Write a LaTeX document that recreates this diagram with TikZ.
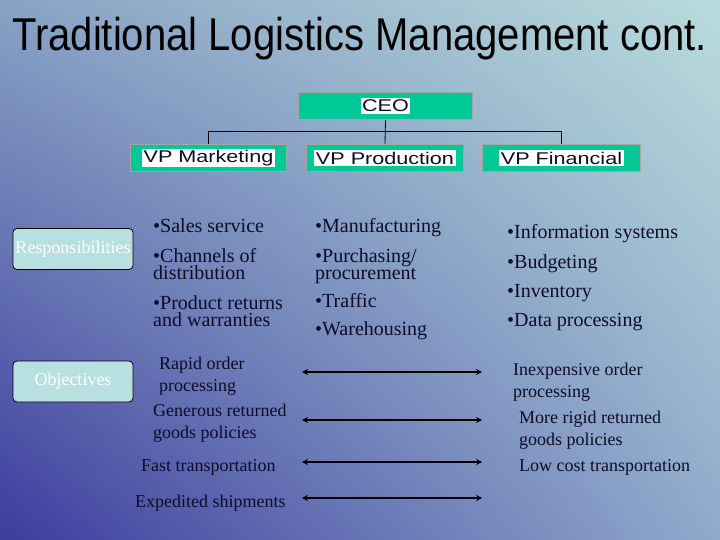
\documentclass[tikz,border=0pt]{standalone}
\usepackage{fontspec}
\setmainfont{Liberation Serif}
\newfontfamily\headfont{Liberation Sans}
\usepackage{xcolor}
\usepackage{tikz}
\usetikzlibrary{arrows.meta,shadings}

\definecolor{vpgreen}{RGB}{0,200,150}
\definecolor{rolecyan}{RGB}{184,224,224}
\definecolor{inkblue}{RGB}{12,12,40}
\definecolor{bgtl}{RGB}{136,162,196}
\definecolor{bgtr}{RGB}{184,220,220}
\definecolor{bgbl}{RGB}{60,60,158}
\definecolor{bgbr}{RGB}{144,170,203}

\setlength{\fboxsep}{1.5pt}
\newcommand{\vplabel}[1]{\colorbox{white}{\scalebox{1.27}[1]{\headfont\fontsize{17}{17}\selectfont #1}}}

\begin{document}
\begin{tikzpicture}[x=1pt, y=-1pt,
        every node/.append style={inner sep=0pt, text=inkblue},
        vpbox/.style={draw=gray!70, line width=1.5pt, fill=vpgreen, minimum height=27pt},
        rolebox/.style={draw=black, line width=0.8pt, fill=rolecyan, rounded corners=4pt, minimum width=120pt,
            minimum height=41pt, text=white, font=\fontsize{18}{18}\selectfont},
        item/.style={anchor=base west, align=left, font=\fontsize{20}{17}\selectfont},
        goal/.style={anchor=base west, align=left, font=\fontsize{18}{22}\selectfont},
        link/.style={line width=2.4pt, {Stealth[length=6pt,width=6pt]}-{Stealth[length=6pt,width=6pt]}}]
        \shade[upper left=bgtl, upper right=bgtr, lower left=bgbl, lower right=bgbr]
            (0,0) rectangle (720,540);

        \node[anchor=base west, text=black, font=\headfont\fontsize{46}{46}\selectfont] (title) at (12,51)
            {\scalebox{0.87}[1]{Traditional Logistics Management cont.}};

        % org chart
        \node[vpbox, minimum width=174pt] (ceo) at (385.5,106) {\vplabel{CEO}};
        \node[vpbox, minimum width=156pt] (vpmark) at (208.5,158) {\vplabel{VP Marketing}};
        \node[vpbox, minimum width=157pt] (vpprod) at (385,158) {\vplabel{VP Production}};
        \node[vpbox, minimum width=158pt] (vpfin) at (561.5,158) {\vplabel{VP Financial}};

        \draw[line width=0.8pt] (ceo.south) -- (vpprod.north);
        \draw[line width=0.8pt] (vpmark.north) -- ++(0,-12) -| (vpfin.north);

        % row labels
        \node[rolebox] (resp) at (73,249) {Responsibilities};
        \node[rolebox] (obj) at (73,381.5) {Objectives};

        % responsibilities
        \node[item] (sales) at (153,233) {•Sales service};
        \node[item] (channels) at (153,279) {•Channels of\\distribution};
        \node[item] (returns) at (153,326) {•Product returns\\and warranties};
        \node[item] (manuf) at (315,233) {•Manufacturing};
        \node[item] (purch) at (315,279) {•Purchasing/\\procurement};
        \node[item] (traffic) at (315,307) {•Traffic};
        \node[item] (wareh) at (315,335) {•Warehousing};
        \node[item] (infosys) at (507,239) {•Information systems};
        \node[item] (budget) at (507,268) {•Budgeting};
        \node[item] (invent) at (507,297) {•Inventory};
        \node[item] (dataproc) at (507,326) {•Data processing};

        % objectives
        \node[goal] (rapid) at (159,391) {Rapid order\\processing};
        \node[goal] (generous) at (153,438) {Generous returned\\goods policies};
        \node[goal] (fast) at (141,471) {Fast transportation};
        \node[goal] (expedited) at (135,507) {Expedited shipments};
        \node[goal] (cheap) at (513,397) {Inexpensive order\\processing};
        \node[goal] (rigid) at (519,445) {More rigid returned\\goods policies};
        \node[goal] (lowcost) at (519,471) {Low cost transportation};

        \coordinate (rapidend) at (302,372);
        \coordinate (cheapend) at (482,372);
        \coordinate (generousend) at (302,420);
        \coordinate (rigidend) at (482,420);
        \coordinate (fastend) at (302,462);
        \coordinate (lowcostend) at (482,462);
        \coordinate (expeditedend) at (302,498);
        \coordinate (shipend) at (482,498);

        \draw[link] (rapidend) -- (cheapend);
        \draw[link] (generousend) -- (rigidend);
        \draw[link] (fastend) -- (lowcostend);
        \draw[link] (expeditedend) -- (shipend);
    \end{tikzpicture}
\end{document}
